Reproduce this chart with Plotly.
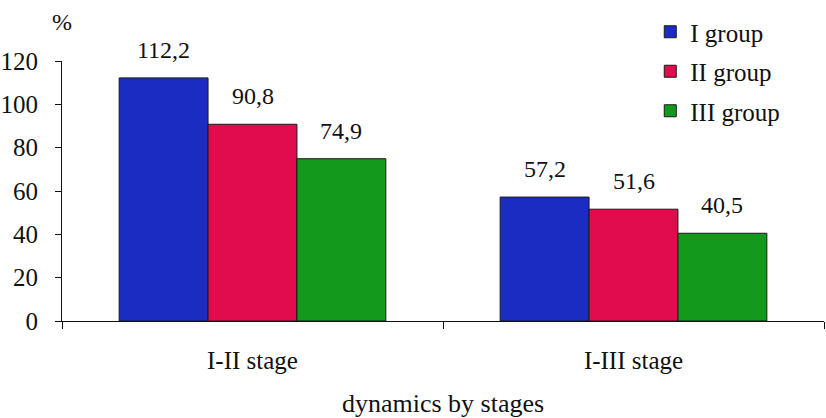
import plotly.graph_objects as go

# Stages on the x axis and the three groups plotted as grouped bars
stages = ["I-II stage", "I-III stage"]
groups = ["I group", "II group", "III group"]
group_1 = [112.2, 57.2]
group_2 = [90.8, 51.6]
group_3 = [74.9, 40.5]
series = [group_1, group_2, group_3]

y_ticks = [0, 20, 40, 60, 80, 100, 120]

colors = ["#1b2cc2", "#e10c4e", "#139a1c"]
FONT = "'Liberation Serif', 'Times New Roman', serif"
SIZE = 25
BARGAP = 0.3


def fmt(v):
    return f"{v:.1f}".replace(".", ",")


fig = go.Figure()
for name, vals, col in zip(groups, series, colors):
    fig.add_trace(go.Bar(
        x=stages, y=vals, name=name, legendgroup=name,
        marker=dict(color=col, line=dict(color="#1a1a1a", width=1)),
    ))

# value labels above each bar, placed at the bar centres of each group
n = len(series)
bar_w = (1 - BARGAP) / n
for i, vals in enumerate(series):
    offset = (i - (n - 1) / 2) * bar_w
    for j, v in enumerate(vals):
        fig.add_annotation(
            x=j + offset, y=v, xref="x", yref="y", text=fmt(v),
            showarrow=False, yanchor="bottom", yshift=13,
            font=dict(family=FONT, size=24, color="#111"),
        )

# unit label above the y axis
fig.add_annotation(
    x=0, y=1.15, xref="paper", yref="paper", text="%", showarrow=False,
    xanchor="center", yanchor="middle",
    font=dict(family=FONT, size=24, color="#111"),
)

fig.update_layout(
    width=826, height=418,
    margin=dict(l=62, r=2, t=61, b=97, autoexpand=False),
    paper_bgcolor="white", plot_bgcolor="white",
    barmode="group", bargap=BARGAP, bargroupgap=0,
    font=dict(family=FONT, size=SIZE, color="#111"),
    showlegend=True,
    legend=dict(
        x=0.772, y=1.20, xanchor="left", yanchor="top",
        bgcolor="rgba(0,0,0,0)", tracegroupgap=4,
        font=dict(family=FONT, size=SIZE, color="#111"),
    ),
    xaxis=dict(
        type="category", showline=True, linecolor="#111", linewidth=1,
        ticks="outside", tickson="boundaries", ticklen=7, tickcolor="#111",
        showgrid=False, ticklabelstandoff=17, automargin=False,
        title=dict(text="dynamics by stages", standoff=24,
                   font=dict(family=FONT, size=26, color="#111")),
    ),
    yaxis=dict(
        range=[0, 120], tickvals=y_ticks, showline=True, linecolor="#111",
        linewidth=1, ticks="outside", ticklen=6, tickcolor="#111",
        showgrid=False, zeroline=False, ticklabelstandoff=12, automargin=False,
    ),
)

fig.write_html("out.html")
